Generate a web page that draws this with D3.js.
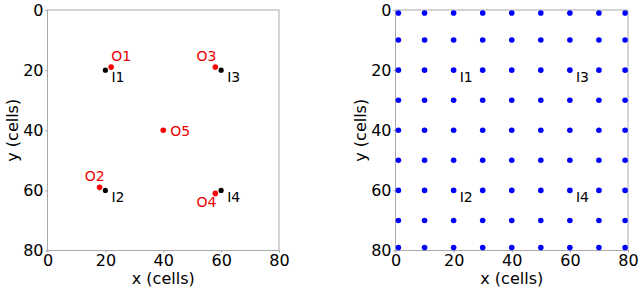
<!DOCTYPE html>
<html>
<head>
<meta charset="utf-8">
<script src="https://cdn.jsdelivr.net/npm/d3@7"></script>
<style>
  body { margin: 0; background: #fff; }
  text { font-family: "DejaVu Sans", sans-serif; }
</style>
</head>
<body>
<svg width="640" height="291"></svg>
<script>
// inner (black) points and outer (red) points
var innerNames = ["I1", "I2", "I3", "I4"];
var innerX = [20, 20, 60, 60];
var innerY = [20, 60, 20, 60];

var outerNames = ["O1", "O2", "O3", "O4", "O5"];
var outerX = [22, 18, 58, 58, 40];
var outerY = [19, 59, 19, 61, 40];

// regular grid on the right panel
var gridX = [1, 10, 20, 30, 40, 50, 60, 70, 79];
var gridY = [1, 10, 20, 30, 40, 50, 60, 70, 79];

var ticks = [0, 20, 40, 60, 80];

// label placement (pixels), keyed by name
var labelPos = {
  I1: [6, 12, "start"], I2: [6, 12, "start"], I3: [6, 12, "start"], I4: [6, 12, "start"],
  O1: [0, -6, "start"], O2: [5, -6, "end"], O3: [1, -6, "end"], O4: [1, 14, "end"], O5: [7, 6, "start"]
};

var svg = d3.select("svg");

function panel(x0, x1, y0, y1) {
  var x = d3.scaleLinear().domain([0, 80]).range([x0, x1]);
  var y = d3.scaleLinear().domain([0, 80]).range([y0, y1]);
  var g = svg.append("g");

  var xa = g.append("g").attr("transform", "translate(0," + y1 + ")")
    .call(d3.axisBottom(x).tickValues(ticks).tickSize(2).tickPadding(1));
  var ya = g.append("g").attr("transform", "translate(" + x0 + ",0)")
    .call(d3.axisLeft(y).tickValues(ticks).tickSize(2).tickPadding(2));
  [xa, ya].forEach(function(a) {
    a.select(".domain").remove();
    a.selectAll("line").attr("stroke", "#999");
    a.selectAll("text").attr("font-size", 16).attr("fill", "#000");
  });
  xa.selectAll("text").attr("dy", "0.75em");

  g.append("rect")
    .attr("x", x0).attr("y", y0)
    .attr("width", x1 - x0).attr("height", y1 - y0)
    .attr("fill", "none").attr("stroke", "#aaa").attr("stroke-width", 1);

  g.append("text")
    .attr("x", (x0 + x1) / 2).attr("y", 284)
    .attr("text-anchor", "middle").attr("font-size", 16)
    .text("x (cells)");
  g.append("text")
    .attr("transform", "translate(" + (x0 - 35.5) + "," + ((y0 + y1) / 2) + ") rotate(-90)")
    .attr("text-anchor", "middle").attr("dy", "0.35em").attr("font-size", 16)
    .text("y (cells)");

  return { g: g, x: x, y: y };
}

function labels(p, names, xs, ys, color) {
  p.g.selectAll(null).data(names).enter().append("text")
    .attr("x", function(d, i) { return p.x(xs[i]) + labelPos[d][0]; })
    .attr("y", function(d, i) { return p.y(ys[i]) + labelPos[d][1]; })
    .attr("text-anchor", function(d) { return labelPos[d][2]; })
    .attr("font-size", 14)
    .attr("fill", color)
    .text(function(d) { return d; });
}

// left panel
var left = panel(47.5, 279, 10, 250.5);
left.g.selectAll(null).data(innerNames).enter().append("circle")
  .attr("cx", function(d, i) { return left.x(innerX[i]); })
  .attr("cy", function(d, i) { return left.y(innerY[i]); })
  .attr("r", 2.6).attr("fill", "#000");
left.g.selectAll(null).data(outerNames).enter().append("circle")
  .attr("cx", function(d, i) { return left.x(outerX[i]); })
  .attr("cy", function(d, i) { return left.y(outerY[i]); })
  .attr("r", 2.8).attr("fill", "#f00");
labels(left, innerNames, innerX, innerY, "#000");
labels(left, outerNames, outerX, outerY, "#e00");

// right panel
var right = panel(395.5, 628, 10, 250.5);
var grid = [];
gridY.forEach(function(gy) { gridX.forEach(function(gx) { grid.push([gx, gy]); }); });
right.g.selectAll(null).data(grid).enter().append("circle")
  .attr("cx", function(d) { return right.x(d[0]); })
  .attr("cy", function(d) { return right.y(d[1]); })
  .attr("r", 2.8).attr("fill", "#00f");
labels(right, innerNames, innerX, innerY, "#000");
</script>
</body>
</html>
